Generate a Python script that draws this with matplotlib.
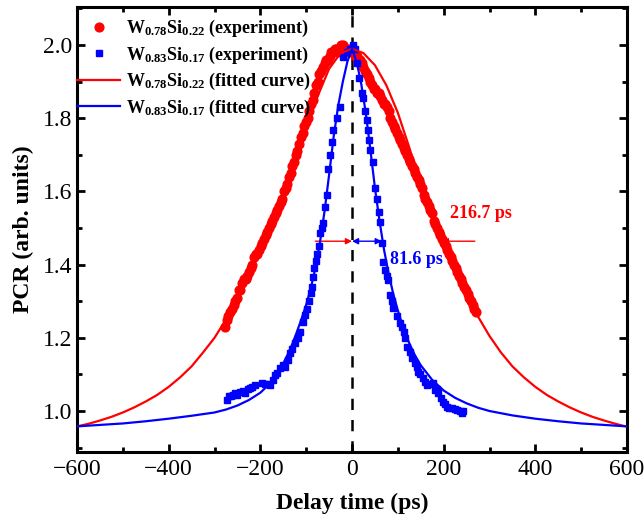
import matplotlib
matplotlib.use("Agg")
import matplotlib.pyplot as plt
from matplotlib.ticker import MultipleLocator

# experiment: W0.78Si0.22 (red circles)
red_x = [-277, -273, -270, -266, -262, -258, -255, -251, -247, -244, -240, -236, -232, -229,
         -225, -221, -218, -214, -210, -207, -203, -199, -196, -192, -188, -185, -181, -177,
         -174, -170, -166, -163, -159, -155, -152, -148, -144, -141, -137, -133, -130, -126,
         -122, -119, -115, -111, -108, -104, -100, -97, -93, -89, -86, -82, -78, -75, -71,
         -67, -64, -60, -56, -53, -49, -45, -42, -38, -34, -31, -27, -23, -20, -16, -12, -9,
         -5, -1, 3, 6, 10, 14, 17, 21, 25, 28, 32, 36, 39, 43, 47, 50, 54, 58, 61, 65, 69, 72,
         76, 80, 83, 87, 91, 94, 98, 102, 105, 109, 113, 116, 120, 124, 127, 131, 135, 138,
         142, 146, 149, 153, 157, 160, 164, 168, 171, 175, 179, 182, 186, 190, 193, 197, 201,
         204, 208, 212, 215, 219, 223, 226, 230, 234, 237, 241, 245, 248, 252, 256, 259, 263,
         267, 270]
red_y = [1.23, 1.25, 1.26, 1.27, 1.28, 1.29, 1.30, 1.31, 1.33, 1.33, 1.35, 1.36, 1.36, 1.37,
         1.38, 1.39, 1.40, 1.42, 1.43, 1.43, 1.44, 1.45, 1.46, 1.47, 1.48, 1.49, 1.50, 1.51,
         1.52, 1.53, 1.54, 1.55, 1.56, 1.57, 1.58, 1.60, 1.61, 1.62, 1.64, 1.65, 1.67, 1.68,
         1.70, 1.71, 1.73, 1.75, 1.76, 1.78, 1.79, 1.80, 1.82, 1.84, 1.85, 1.87, 1.89, 1.90,
         1.92, 1.93, 1.94, 1.95, 1.96, 1.96, 1.97, 1.98, 1.98, 1.99, 1.99, 1.98, 1.99, 2.00,
         2.00, 1.99, 1.99, 1.98, 1.99, 1.98, 1.98, 1.97, 1.97, 1.96, 1.96, 1.95, 1.94, 1.93,
         1.92, 1.91, 1.90, 1.89, 1.88, 1.88, 1.87, 1.87, 1.86, 1.85, 1.84, 1.84, 1.83, 1.82,
         1.80, 1.79, 1.78, 1.77, 1.76, 1.75, 1.74, 1.73, 1.72, 1.71, 1.70, 1.69, 1.68, 1.67,
         1.66, 1.65, 1.64, 1.63, 1.62, 1.61, 1.59, 1.58, 1.57, 1.56, 1.55, 1.54, 1.52, 1.51,
         1.50, 1.49, 1.48, 1.47, 1.46, 1.45, 1.44, 1.43, 1.42, 1.41, 1.40, 1.39, 1.38, 1.37,
         1.36, 1.35, 1.34, 1.33, 1.32, 1.31, 1.30, 1.29, 1.28, 1.27]

# experiment: W0.83Si0.17 (blue squares)
blue_x = [-273, -268, -264, -260, -255, -250, -244, -238, -233, -227, -222, -218, -212, -196,
          -190, -184, -179, -173, -168, -163, -157, -151, -146, -140, -135, -130, -124, -118,
          -113, -107, -102, -98, -94, -90, -87, -85, -82, -79, -76, -73, -70, -66, -63, -59,
          -55, -52, -47, -44, -41, -33, -26, -20, -12, -4, 3, 7, 11, 16, 22, 25, 29, 33, 35,
          38, 40, 46, 50, 55, 59, 62, 65, 68, 72, 76, 79, 83, 87, 90, 98, 105, 109, 113, 116,
          120, 126, 131, 137, 141, 144, 149, 155, 160, 163, 170, 177, 181, 185, 188, 194, 199,
          203, 207, 212, 218, 224, 229, 235, 240, 243]
blue_y = [1.030, 1.040, 1.040, 1.044, 1.050, 1.045, 1.052, 1.055, 1.049, 1.060, 1.062, 1.066,
          1.070, 1.077, 1.075, 1.074, 1.071, 1.085, 1.098, 1.105, 1.117, 1.125, 1.120, 1.140,
          1.158, 1.170, 1.186, 1.200, 1.215, 1.242, 1.262, 1.280, 1.300, 1.322, 1.340, 1.366,
          1.390, 1.410, 1.430, 1.450, 1.486, 1.500, 1.514, 1.557, 1.590, 1.660, 1.700, 1.735,
          1.768, 1.800, 1.830, 1.967, 1.980, 1.990, 2.000, 1.990, 1.950, 1.910, 1.870, 1.855,
          1.820, 1.795, 1.768, 1.740, 1.713, 1.680, 1.610, 1.580, 1.545, 1.516, 1.460, 1.407,
          1.385, 1.370, 1.358, 1.317, 1.300, 1.281, 1.260, 1.240, 1.230, 1.215, 1.200, 1.175,
          1.160, 1.145, 1.131, 1.120, 1.107, 1.100, 1.090, 1.080, 1.071, 1.075, 1.077, 1.057,
          1.060, 1.049, 1.035, 1.025, 1.020, 1.011, 1.008, 1.008, 1.005, 1.003, 1.000, 0.995,
          1.000]

# fitted curves
red_fit_x = [-600, -575, -550, -525, -500, -475, -450, -425, -400, -375, -350, -325, -300,
             -275, -250, -225, -200, -175, -150, -125, -100, -75, -50, -25, 0, 25, 50, 75,
             100, 125, 150, 175, 200, 225, 250, 275, 300, 325, 350, 375, 400, 425, 450, 475,
             500, 525, 550, 575, 600]
red_fit_y = [0.958, 0.965, 0.974, 0.984, 0.996, 1.010, 1.026, 1.044, 1.066, 1.092, 1.122,
             1.160, 1.200, 1.250, 1.307, 1.370, 1.437, 1.508, 1.585, 1.675, 1.770, 1.860,
             1.935, 1.978, 1.990, 1.978, 1.945, 1.890, 1.815, 1.720, 1.620, 1.535, 1.458,
             1.385, 1.318, 1.258, 1.205, 1.160, 1.122, 1.092, 1.066, 1.044, 1.026, 1.010,
             0.996, 0.984, 0.974, 0.965, 0.957]
blue_fit_x = [-600, -550, -500, -450, -400, -350, -300, -275, -250, -225, -200, -175, -150,
              -140, -130, -120, -110, -100, -90, -80, -70, -60, -50, -40, -30, -20, -10, 0,
              10, 20, 30, 40, 50, 60, 70, 80, 90, 100, 112, 125, 137, 150, 175, 200, 225, 250,
              275, 300, 350, 400, 450, 500, 550, 600]
blue_fit_y = [0.958, 0.962, 0.966, 0.972, 0.979, 0.987, 0.996, 1.004, 1.015, 1.030, 1.050,
              1.080, 1.130, 1.155, 1.184, 1.217, 1.252, 1.290, 1.335, 1.390, 1.460, 1.545,
              1.645, 1.750, 1.835, 1.900, 1.955, 1.990, 1.955, 1.895, 1.815, 1.715, 1.610,
              1.520, 1.440, 1.375, 1.320, 1.275, 1.227, 1.185, 1.153, 1.125, 1.085, 1.056,
              1.036, 1.021, 1.009, 1.000, 0.988, 0.979, 0.972, 0.966, 0.962, 0.958]

RED = "#FF0000"
BLUE = "#0000FF"

plt.rcParams.update({
    "font.family": "Liberation Serif",
    "mathtext.fontset": "custom",
    "mathtext.rm": "Liberation Serif",
    "mathtext.bf": "Liberation Serif:bold",
    "mathtext.it": "Liberation Serif:italic",
})

fig = plt.figure(figsize=(6.44, 5.25), dpi=100)
# axes box: x 77..627 px, y 7..452 px
ax = fig.add_axes([77 / 644, 1 - 452 / 525, 550 / 644, 445 / 525])

lab1 = r"W$_{\mathbf{0.78}}$Si$_{\mathbf{0.22}}$ (experiment)"
lab2 = r"W$_{\mathbf{0.83}}$Si$_{\mathbf{0.17}}$ (experiment)"
lab3 = r"W$_{\mathbf{0.78}}$Si$_{\mathbf{0.22}}$ (fitted curve)"
lab4 = r"W$_{\mathbf{0.83}}$Si$_{\mathbf{0.17}}$ (fitted curve)"

ax.axvline(0, color="black", lw=1.8, ls=(0, (4.5, 4)), zorder=1)
ax.plot(red_x, red_y, "o", color=RED, ms=6.3, mec=RED, label=lab1, zorder=3)
ax.plot(blue_x, blue_y, "s", color=BLUE, ms=5, mec=BLUE, label=lab2, zorder=3)
ax.plot(red_fit_x, red_fit_y, "-", color=RED, lw=1.6, label=lab3, zorder=4)
ax.plot(blue_fit_x, blue_fit_y, "-", color=BLUE, lw=1.6, label=lab4, zorder=4)

# width annotations
arr = dict(arrowstyle="-|>", lw=1.0, mutation_scale=9, shrinkA=0, shrinkB=0)
ax.annotate("", xy=(0, 1.464), xytext=(-80, 1.464), arrowprops=dict(arr, color=RED))
ax.annotate("", xy=(196, 1.464), xytext=(268, 1.464), arrowprops=dict(arr, color=RED))
ax.annotate("", xy=(65, 1.464), xytext=(0, 1.464),
            arrowprops=dict(arrowstyle="<|-|>", lw=1.0, mutation_scale=9,
                            shrinkA=0, shrinkB=0, color=BLUE))
ax.text(214, 1.541, "216.7 ps", color=RED, fontsize=13, fontweight="bold",
        ha="left", va="center")
ax.text(83, 1.413, "81.6 ps", color=BLUE, fontsize=13, fontweight="bold",
        ha="left", va="center")

ax.set_xlim(-600, 600)
ax.set_ylim(0.888, 2.104)
ax.xaxis.set_minor_locator(MultipleLocator(100))
ax.yaxis.set_minor_locator(MultipleLocator(0.1))
ax.set_xticks([-600, -400, -200, 0, 200, 400, 600])
ax.set_xticklabels(["\u2212600", "\u2212400", "\u2212200", "0", "200", "400", "600"])
ax.set_yticks([1.0, 1.2, 1.4, 1.6, 1.8, 2.0])
ax.set_yticklabels(["1.0", "1.2", "1.4", "1.6", "1.8", "2.0"])
ax.tick_params(which="both", direction="in", top=True, right=True, labelsize=17)
ax.tick_params(which="major", length=6, width=2)
ax.tick_params(which="minor", length=3.5, width=2)
ax.tick_params(axis="x", pad=5)
for sp in ax.spines.values():
    sp.set_linewidth(2.2)

ax.set_xlabel("Delay time (ps)", fontsize=17, fontweight="bold", labelpad=9)
ax.set_ylabel("PCR (arb. units)", fontsize=17, fontweight="bold", labelpad=6)

leg = ax.legend(loc="upper left", bbox_to_anchor=(0.0, 0.975), frameon=False,
                prop={"weight": "bold", "size": 13}, handlelength=2.4,
                handletextpad=0.3, labelspacing=0.3, borderaxespad=0.0,
                borderpad=0.0)

fig.savefig("out.png", dpi=100)
